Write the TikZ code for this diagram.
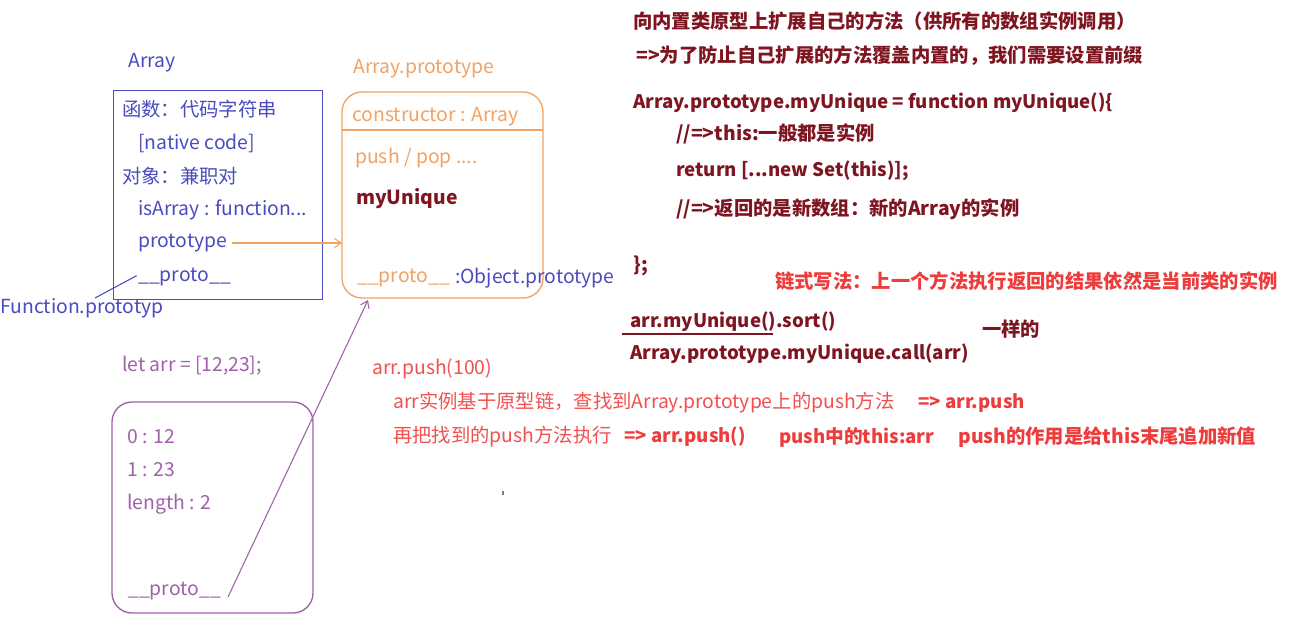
\documentclass[tikz,border=0pt]{standalone}
\usepackage{fontspec}
\setmainfont{Noto Sans CJK SC}
\usetikzlibrary{arrows.meta}
\definecolor{blu}{HTML}{4B4BC0}
\definecolor{orng}{HTML}{F2A262}
\definecolor{dred}{HTML}{7E1520}
\definecolor{rd}{HTML}{EE3B3B}
\definecolor{lrd}{HTML}{F05050}
\definecolor{purp}{HTML}{A060AA}
\tikzset{
  txt/.style={inner sep=0pt,anchor=west,font=\fontsize{14.5}{17}\selectfont},
  bld/.style={txt,font=\fontsize{14.5}{17}\selectfont\bfseries},
  bldl/.style={txt,font=\fontsize{14}{17}\selectfont\bfseries},
  conn/.style={line width=0.8pt},
  barb/.style={-{Straight Barb[length=5pt,width=7pt]}},
}
\begin{document}
\begin{tikzpicture}[x=0.75pt,y=-0.75pt]
\useasboundingbox (0,0) rectangle (1306,632);
\fill[white] (0,0) rectangle (1306,632);

% ---- Array box ----
\node[txt,text=blu] (arrlbl) at (128,63) {Array};
\node[draw=blu,line width=1pt,anchor=north west,minimum width=209*0.75pt,minimum height=209*0.75pt,inner sep=0pt] (arrbox) at (113,90) {};
\node[txt,text=blu] (a1) at (122,109) {函数：代码字符串};
\node[txt,text=blu] (a2) at (138,143) {[native code]};
\node[txt,text=blu] (a3) at (122,176) {对象：兼职对};
\node[txt,text=blu] (a4) at (138,210) {isArray : function...};
\node[txt,text=blu] (aproto) at (138,243) {prototype};
\node[txt,text=blu] (a__) at (138,277) {\_\_proto\_\_};
\node[txt,text=blu] (funcp) at (0,308) {Function.prototyp};
\coordinate (fpin) at (95,298);
\draw[blu,conn] ([xshift=-1pt]a__.west) ++(0,1pt) coordinate (a__s) -- (fpin);

% ---- Array.prototype box ----
\node[txt,text=orng] (aplbl) at (353,69) {Array.prototype};
\draw[orng,line width=1pt,rounded corners=15pt] (342,92) rectangle (543,298);
\node[anchor=north west,minimum width=201*0.75pt,minimum height=206*0.75pt,inner sep=0pt] (apbox) at (342,92) {};
\draw[orng,line width=1pt] (342,130) -- (543,130);
\node[txt,text=orng] (ctor) at (352,117) {constructor : Array};
\node[txt,text=orng] (pp) at (355,158) {push / pop ....};
\node[bld,text=dred] (myu) at (356,199) {myUnique};
\node[txt,text=orng] (ap__) at (357,278) {\_\_proto\_\_};
\node[txt,text=blu] (objp) at (455,278) {:Object.prototype};

\draw[orng,conn,barb] ([xshift=3pt]aproto.east) -- (apbox.west |- aproto.east);

% ---- arr instance ----
\node[txt,text=purp] (letarr) at (122,366) {let arr = [12,23];};
\draw[purp,line width=1pt,rounded corners=15pt] (112,402) rectangle (313,613);
\node[txt,text=purp] (i0) at (127,437) {0 : 12};
\node[txt,text=purp] (i1) at (127,470) {1 : 23};
\node[txt,text=purp] (il) at (127,504) {length : 2};
\node[txt,text=purp] (i__) at (128,591) {\_\_proto\_\_};
\coordinate (apin) at (368,300);
\coordinate (i__s) at (228,597);
\draw[purp,conn,barb] (i__s) -- (apin);

% ---- right side code ----
\node[bld,text=dred] (t1) at (633,21) {向内置类原型上扩展自己的方法（供所有的数组实例调用）};
\node[bld,text=dred] (t2) at (636,56) {=>为了防止自己扩展的方法覆盖内置的，我们需要设置前缀};
\node[bldl,text=dred] (c1) at (633,103) {Array.prototype.myUnique = function myUnique()\{};
\node[bld,text=dred] (c2) at (676,134) {//=>this:一般都是实例};
\node[bldl,text=dred] (c3) at (676,171) {return [...new Set(this)];};
\node[bld,text=dred] (c4) at (676,209) {//=>返回的是新数组：新的Array的实例};
\node[bld,text=dred] (c5) at (633,266) {\};};
\node[bld,text=rd] (chain) at (775,281) {链式写法：上一个方法执行返回的结果依然是当前类的实例};
\node[bldl,text=dred] (s1) at (630,322) {arr.myUnique().sort()};
\draw[dred,line width=1pt] (622,334) -- (773,334);
\node[bld,text=dred] (same) at (982,329) {一样的};
\node[bldl,text=dred] (s2) at (630,354) {Array.prototype.myUnique.call(arr)};

% ---- push explanation ----
\node[txt,text=lrd] (p0) at (372,369) {arr.push(100)};
\node[txt,text=lrd] (p1) at (393,403) {arr实例基于原型链，查找到Array.prototype上的push方法};
\node[bldl,text=rd] (p1b) at (918,403) {=> arr.push};
\node[txt,text=lrd] (p2) at (393,437) {再把找到的push方法执行};
\node[bldl,text=rd] (p2b) at (624,437) {=> arr.push()};
\node[bldl,text=rd] (p2c) at (779,437) {push中的this:arr};
\node[bld,text=rd] (p2d) at (958,437) {push的作用是给this末尾追加新值};

\fill[purp!80!gray] (502,491) rectangle (504,495);
\end{tikzpicture}
\end{document}
